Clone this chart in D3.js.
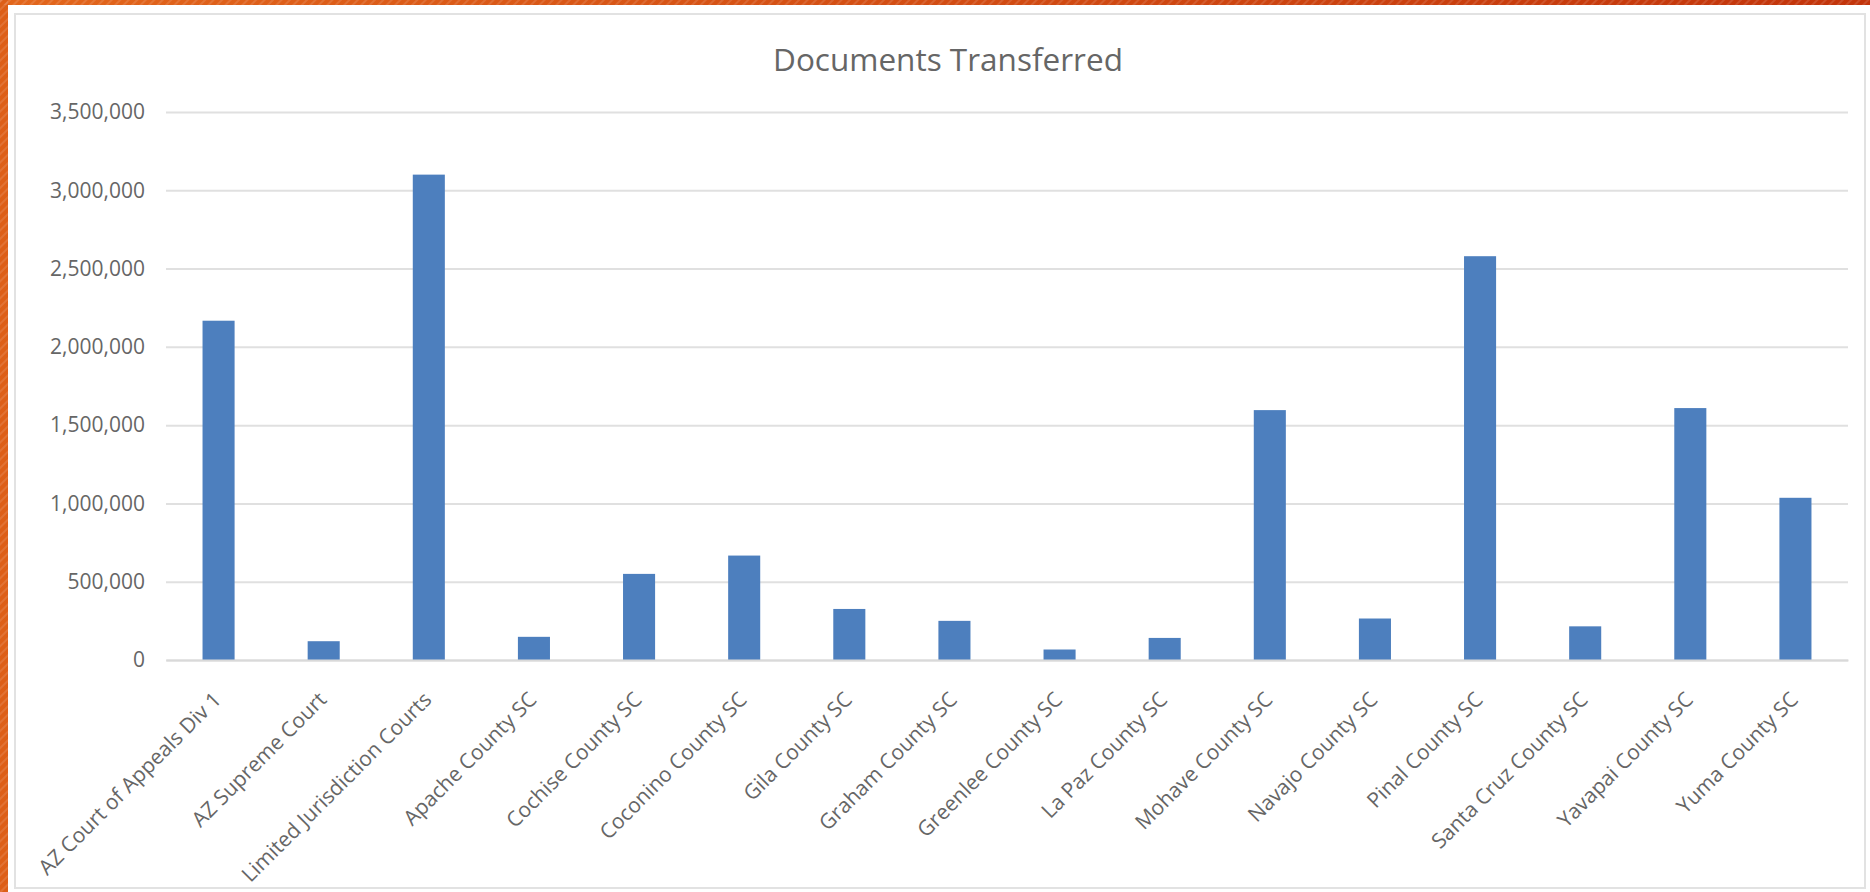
<!DOCTYPE html>
<html>
<head>
<meta charset="utf-8">
<script src="https://cdn.jsdelivr.net/npm/d3@7/dist/d3.min.js"></script>
<style>
  html, body { margin: 0; padding: 0; background: #fff; }
  svg { display: block; }
</style>
</head>
<body>
<svg id="chart" width="1870" height="892"></svg>
<script>
const categories = [
  "AZ Court of Appeals Div 1", "AZ Supreme Court", "Limited Jurisdiction Courts",
  "Apache County SC", "Cochise County SC", "Coconino County SC", "Gila County SC",
  "Graham County SC", "Greenlee County SC", "La Paz County SC", "Mohave County SC",
  "Navajo County SC", "Pinal County SC", "Santa Cruz County SC", "Yavapai County SC",
  "Yuma County SC"
];
const documents = [
  2167000, 120000, 3100000, 148000, 550000, 667000, 326000, 250000,
  67000, 141000, 1596000, 265000, 2579000, 215000, 1609000, 1036000
];
const yTickValues = [0, 500000, 1000000, 1500000, 2000000, 2500000, 3000000, 3500000];
const chartTitle = "Documents Transferred";

const W = 1870, H = 892;
const plot = { left: 166, right: 1848, top: 112, bottom: 660 };
const svg = d3.select("#chart");
const defs = svg.append("defs");

// background decoration (orange slide frame)
const grad = defs.append("linearGradient").attr("id", "topGrad").attr("x1", 0).attr("x2", 1).attr("y1", 0).attr("y2", 0);
grad.append("stop").attr("offset", "0%").attr("stop-color", "#e2661c");
grad.append("stop").attr("offset", "100%").attr("stop-color", "#c2340b");
const pat = defs.append("pattern").attr("id", "stripes").attr("width", 6).attr("height", 6)
  .attr("patternUnits", "userSpaceOnUse").attr("patternTransform", "rotate(45)");
pat.append("rect").attr("width", 2).attr("height", 6).attr("fill", "rgba(255,255,255,0.12)");

svg.append("rect").attr("x", 0).attr("y", 0).attr("width", W).attr("height", 5).attr("fill", "url(#topGrad)");
svg.append("rect").attr("x", 0).attr("y", 0).attr("width", 8).attr("height", H).attr("fill", "#dd5f18");
svg.append("rect").attr("x", 0).attr("y", 0).attr("width", W).attr("height", 5).attr("fill", "url(#stripes)");
svg.append("rect").attr("x", 0).attr("y", 0).attr("width", 8).attr("height", H).attr("fill", "url(#stripes)");

// chart frame
svg.append("rect").attr("x", 15).attr("y", 14).attr("width", 1850).attr("height", 874)
  .attr("fill", "#fff").attr("stroke", "#e2e2e2").attr("stroke-width", 2);

const x = d3.scaleBand().domain(categories).range([plot.left, plot.right])
  .paddingInner(0.695).paddingOuter(0.3475);
const y = d3.scaleLinear().domain([0, 3500000]).range([plot.bottom, plot.top]);

// y axis with gridlines
const yAxis = d3.axisLeft(y).tickValues(yTickValues).tickFormat(d3.format(","))
  .tickSize(-(plot.right - plot.left)).tickPadding(21);
const gy = svg.append("g").attr("transform", `translate(${plot.left},0)`).call(yAxis);
gy.select(".domain").remove();
gy.selectAll(".tick line").attr("stroke", "#e0e0e0").attr("stroke-width", 2);
gy.selectAll(".tick text").attr("fill", "#666").attr("font-family", "'Open Sans', sans-serif")
  .attr("font-size", 21);

// bars
svg.append("g").selectAll("rect").data(documents).join("rect")
  .attr("x", (d, i) => x(categories[i]))
  .attr("width", x.bandwidth())
  .attr("y", d => y(d))
  .attr("height", d => y(0) - y(d))
  .attr("fill", "#4d7fbe");

// x axis
const xAxis = d3.axisBottom(x).tickSize(0).tickSizeOuter(0);
const gx = svg.append("g").attr("transform", `translate(0,${plot.bottom})`).call(xAxis);
gx.select(".domain").attr("stroke", "#d9d9d9").attr("stroke-width", 2);
gx.selectAll(".tick text")
  .attr("fill", "#666").attr("font-family", "'Open Sans', sans-serif").attr("font-size", 21)
  .attr("text-anchor", "end").attr("x", 0).attr("y", 0).attr("dy", 0)
  .attr("transform", "translate(4,41) rotate(-45)");

// title
svg.append("text").attr("x", 948).attr("y", 71).attr("text-anchor", "middle")
  .attr("fill", "#666").attr("font-family", "'Open Sans', sans-serif").attr("font-size", 31.5)
  .text(chartTitle);
</script>
</body>
</html>
